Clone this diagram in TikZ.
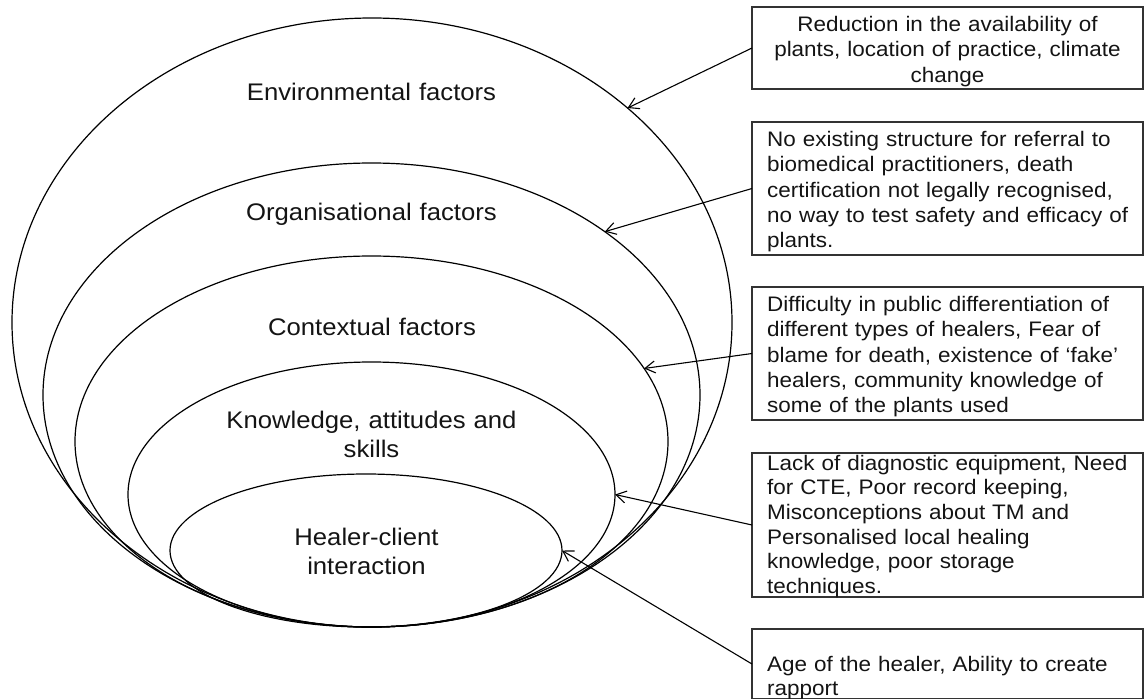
\documentclass[tikz,border=0pt]{standalone}
\usepackage{fontspec}
\setmainfont{Liberation Sans}[FakeStretch=1.07]
\usetikzlibrary{shapes.geometric,arrows.meta}
\begin{document}
\begin{tikzpicture}[x=1pt,y=-1pt,
  ring/.style={draw=black,line width=1.2pt,shape=ellipse,inner sep=0pt,outer sep=0pt},
  infobox/.style={draw=black!80,line width=1.5pt,rectangle,inner sep=0pt,outer sep=0pt,anchor=north west,minimum width=391pt},
  boxtext/.style={inner sep=0pt,anchor=base west,text width=380pt,align=left,font=\fontsize{21}{25.2}\selectfont,text=black!92},
  ringlabel/.style={inner sep=0pt,anchor=base,text width=330pt,align=center,font=\fontsize{24}{29.5}\selectfont,text=black!92},
  arr/.style={-{Straight Barb[length=10pt,width=12pt]},line width=1.1pt,black}]
\useasboundingbox (0,0) rectangle (1144,699);
% nested ellipses
\node[ring,minimum width=720pt,minimum height=609pt] (env) at (372,322.5) {};
\node[ring,minimum width=657pt,minimum height=464pt] (org) at (371.5,395) {};
\node[ring,minimum width=593pt,minimum height=371pt] (ctx) at (371.5,441.5) {};
\node[ring,minimum width=487pt,minimum height=265pt] (know) at (371.5,494.5) {};
\node[ring,minimum width=392pt,minimum height=153pt] (heal) at (366,550.5) {};
% ellipse labels
\node[ringlabel] (lenv) at (371.5,100) {Environmental factors};
\node[ringlabel] (lorg) at (371.5,220) {Organisational factors};
\node[ringlabel] (lctx) at (372,335) {Contextual factors};
\node[ringlabel] (lknow) at (371.5,428) {Knowledge, attitudes and\\skills};
\node[ringlabel] (lheal) at (366.5,545) {Healer-client\\interaction};
% boxes
\node[infobox,minimum height=82pt] (b1) at (752,7) {};
\node[infobox,minimum height=133pt] (b2) at (752,122) {};
\node[infobox,minimum height=133pt] (b3) at (752,287) {};
\node[infobox,minimum height=144pt] (b4) at (752,453) {};
\node[infobox,minimum height=70pt] (b5) at (752,629) {};
% box texts
\node[boxtext,anchor=base,text width=370pt,align=center] (t1) at (947.5,31.7) {Reduction in the availability of\\plants, location of practice, climate\\change};
\node[boxtext] (t2) at (767,146.7) {No existing structure for referral to\\biomedical practitioners, death\\certification not legally recognised,\\no way to test safety and efficacy of\\plants.};
\node[boxtext] (t3) at (767,311.7) {Difficulty in public differentiation of\\different types of healers, Fear of\\blame for death, existence of ‘fake’\\healers, community knowledge of\\some of the plants used};
\node[boxtext,font=\fontsize{21}{24.7}\selectfont] (t4) at (767,470) {Lack of diagnostic equipment, Need\\for CTE, Poor record keeping,\\Misconceptions about TM and\\Personalised local healing\\knowledge, poor storage\\techniques.};
\node[boxtext,font=\fontsize{21}{23.5}\selectfont] (t5) at (767,671.7) {Age of the healer, Ability to create\\rapport};
% connectors
\draw[arr] (b1.west) -- (env.40);
\draw[arr] (b2.west) -- (org.35);
\draw[arr] (b3.west) -- (ctx.15);
\draw[arr] (b4.west) -- (know.0);
\draw[arr] (b5.west) -- (heal.0);
\end{tikzpicture}
\end{document}
